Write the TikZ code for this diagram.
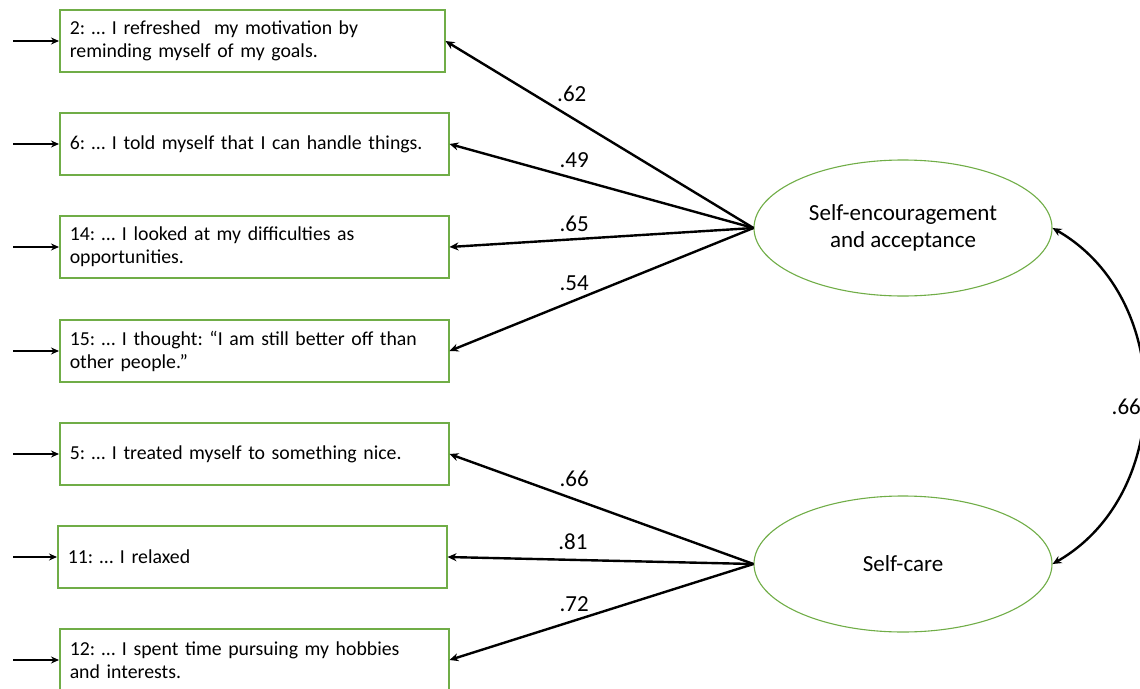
\documentclass[tikz,border=0pt]{standalone}
\usepackage{fontspec}
\setmainfont{Carlito}
\usetikzlibrary{arrows.meta,shapes.geometric}
\definecolor{boxgreen}{RGB}{112,173,71}

\begin{document}
\frenchspacing
\begin{tikzpicture}[x=1pt,y=-1pt,
    item/.style={draw=boxgreen, line width=1.5pt, minimum height=62pt,
        text width=369pt, inner xsep=10pt, inner ysep=0pt, align=left,
        anchor=west, font=\fontsize{19.8}{23}\selectfont},
    factor/.style={ellipse, draw=boxgreen, line width=1.1pt,
        minimum width=298pt, minimum height=136pt, inner sep=0pt,
        align=center, font=\fontsize{23}{27}\selectfont},
    feed/.style={line width=2.2pt, -{Stealth[length=8pt,width=7pt]}},
    load/.style={line width=2.4pt, -{Stealth[length=9pt,width=8pt]}},
    corr/.style={line width=2.4pt, {Stealth[length=9pt,width=8pt]}-{Stealth[length=9pt,width=8pt]}},
    lbl/.style={font=\fontsize{23}{26}\selectfont, inner sep=0pt}]
    \useasboundingbox (0,0) rectangle (1140,688);
    \clip (0,0) rectangle (1140,688);

    % 观测题目
    \node[item, text width=365pt] (i2) at (59,41) {2: … I refreshed \ my motivation by\\reminding myself of my goals.};
    \node[item] (i6) at (59,144) {6: … I told myself that I can handle things.};
    \node[item] (i14) at (59,247) {14: … I looked at my difficulties as\\opportunities.};
    \node[item] (i15) at (59,351) {15: … I thought: “I am still better off than\\other people.”};
    \node[item] (i5) at (59,454) {5: … I treated myself to something nice.};
    \node[item] (i11) at (57,557) {11: … I relaxed};
    \node[item] (i12) at (59,660) {12: … I spent time pursuing my hobbies\\and interests.};

    % 潜变量
    \node[factor] (sea) at (903,228) {Self-encouragement\\and acceptance};
    \node[factor] (sc) at (903,564) {Self-care};

    % 误差项箭头
    \foreach \i/\y in {2/41,6/144,14/247,15/351,5/454,11/557,12/660}{
        \coordinate (e\i) at (13,\y);
        \draw[feed] (e\i) -- (i\i);
    }

    % 因子载荷
    \draw[load] (sea.west) -- node[lbl, pos=.59, above=14.5pt] (l2) {.62} (i2.east);
    \draw[load] (sea.west) -- node[lbl, pos=.59, above=9.5pt] (l6) {.49} (i6.east);
    \draw[load] (sea.west) -- node[lbl, pos=.59, above=6.5pt] (l14) {.65} (i14.east);
    \draw[load] (sea.west) -- node[lbl, pos=.59, above=8.5pt] (l15) {.54} (i15.east);
    \draw[load] (sc.west) -- node[lbl, pos=.59, above=11.5pt] (l5) {.66} (i5.east);
    \draw[load] (sc.west) -- node[lbl, pos=.59, above=8.5pt] (l11) {.81} (i11.east);
    \draw[load] (sc.west) -- node[lbl, pos=.59, above=7.5pt] (l12) {.72} (i12.east);

    % 因子相关
    \draw[corr] (sea.east) .. controls +(122,70) and +(122,-70) .. node[lbl, pos=.5, left=2pt, yshift=-11pt] (r) {.66} (sc.east);

\end{tikzpicture}
\end{document}
